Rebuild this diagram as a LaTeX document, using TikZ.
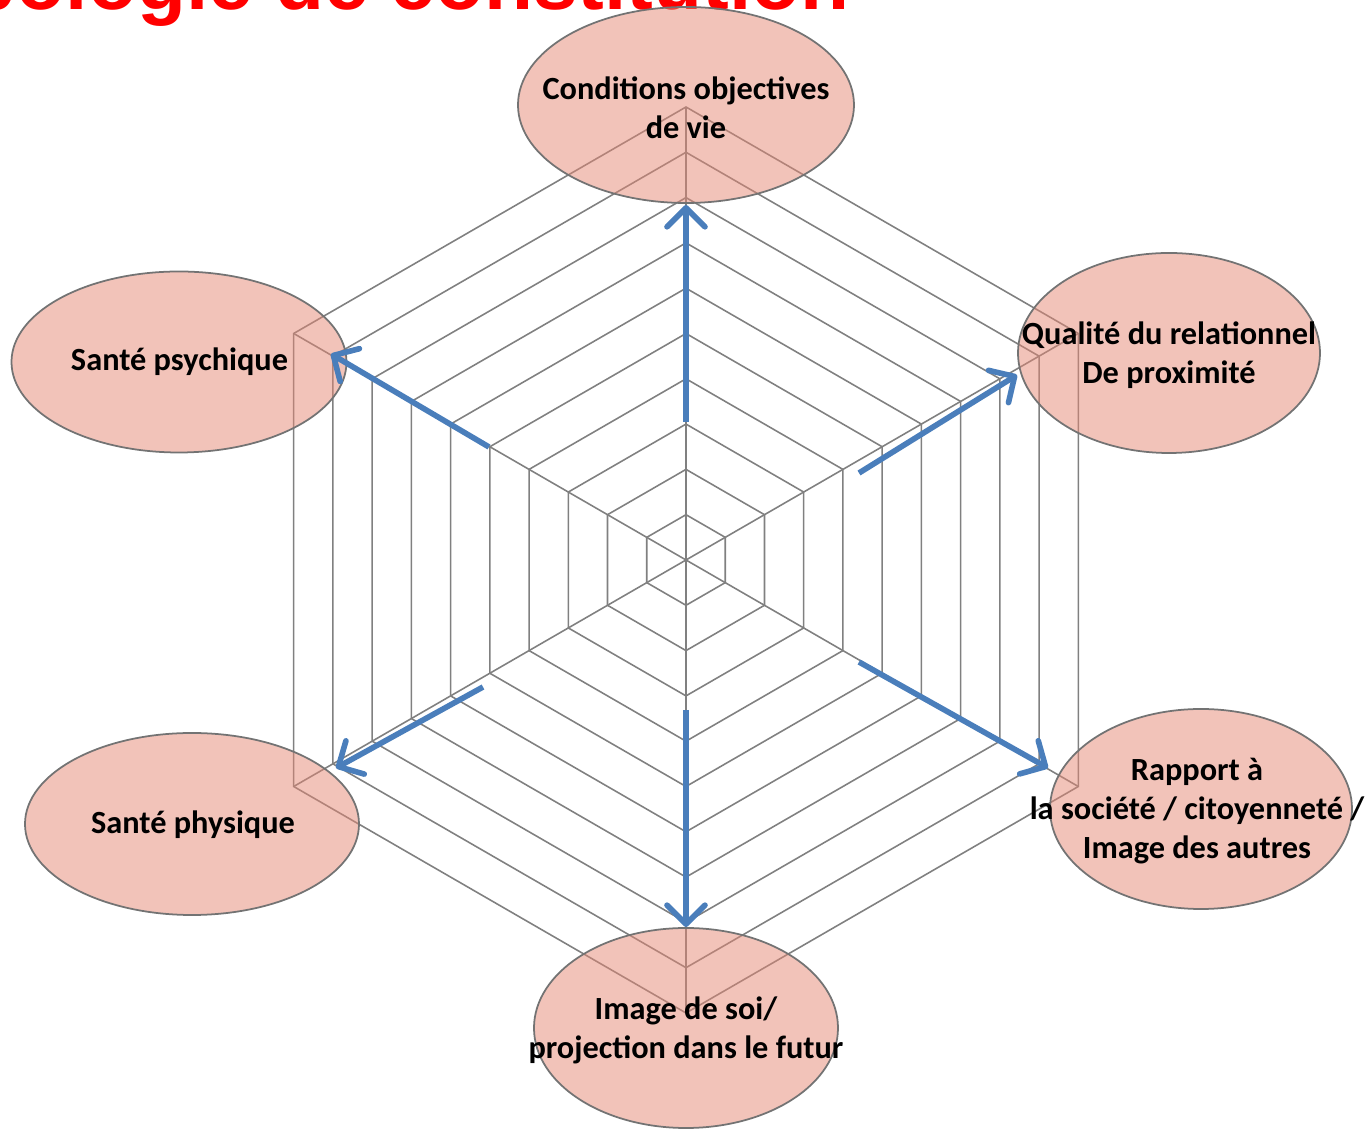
\documentclass[tikz,border=0pt]{standalone}
\usepackage{fontspec}
\setmainfont{Carlito}
\newfontfamily\titlefont{Liberation Sans}
\usetikzlibrary{arrows.meta,shapes.geometric}
\definecolor{webgray}{RGB}{128,128,128}
\definecolor{bubblefill}{RGB}{229,135,115}
\definecolor{axisblue}{RGB}{74,126,187}

\begin{document}
\begin{tikzpicture}[
  web/.style={webgray, line width=0.45pt},
  bubble/.style={ellipse, draw=black!55, line width=0.5pt, fill=bubblefill, fill opacity=0.5, inner sep=0pt},
  lbl/.style={font=\bfseries\fontsize{9.2}{11.1}\selectfont, align=center, inner sep=0pt},
  axis/.style={axisblue, line width=1.6pt, -{Straight Barb[length=1.9mm,width=3.8mm,round]}}]
\useasboundingbox (-6.86,-5.69) rectangle (6.82,5.60);
% title, cut by the top edge
\node[anchor=base east, inner sep=0pt, text=red, font=\titlefont\bfseries\fontsize{22.8}{27}\selectfont] (title) at (1.64,5.50) {Typologie de constitution};
% spider web
\coordinate (o) at (0,0);
\foreach \k [evaluate=\k as \r using 0.453*\k] in {1,...,10}
  \draw[web] (90:\r) -- (30:\r) -- (-30:\r) -- (-90:\r) -- (-150:\r) -- (150:\r) -- cycle;
\foreach \a in {90,30,-30,-90,-150,150} \draw[web] (o) -- (\a:4.53);
% the six dimensions
\node[bubble, minimum width=3.36cm, minimum height=1.96cm] (cond) at (0,4.55) {};
\node[bubble, minimum width=3.02cm, minimum height=2.00cm] (qual) at (4.83,2.07) {};
\node[bubble, minimum width=3.02cm, minimum height=2.00cm] (rapp) at (5.15,-2.49) {};
\node[bubble, minimum width=3.04cm, minimum height=2.00cm] (imag) at (0,-4.68) {};
\node[bubble, minimum width=3.34cm, minimum height=1.82cm] (phys) at (-4.94,-2.64) {};
\node[bubble, minimum width=3.35cm, minimum height=1.81cm] (psy) at (-5.07,1.98) {};
% arrows
\coordinate (cond-a) at (0,1.38);      \coordinate (cond-b) at (0,3.55);
\coordinate (qual-a) at (1.73,0.87);   \coordinate (qual-b) at (3.31,1.85);
\coordinate (rapp-a) at (1.73,-1.02);  \coordinate (rapp-b) at (3.62,-2.08);
\coordinate (imag-a) at (0,-1.50);     \coordinate (imag-b) at (0,-3.67);
\coordinate (phys-a) at (-2.03,-1.27); \coordinate (phys-b) at (-3.50,-2.08);
\coordinate (psy-a) at (-1.97,1.13);   \coordinate (psy-b) at (-3.55,2.06);
\foreach \n in {cond,qual,rapp,imag,phys,psy} \draw[axis] (\n-a) -- (\n-b);
% labels
\node[lbl] (cond-t) at (0,4.525) {Conditions objectives\\de vie};
\node[lbl] (qual-t) at (4.83,2.05) {Qualité du relationnel\\De proximité};
\node[lbl] (rapp-t) at (5.11,-2.51) {Rapport à\\la société / citoyenneté /\\Image des autres};
\node[lbl] (imag-t) at (0,-4.70) {Image de soi/\\projection dans le futur};
\node[lbl] (phys-t) at (-4.93,-2.65) {Santé physique};
\node[lbl] (psy-t) at (-5.065,1.98) {Santé psychique};
\end{tikzpicture}
\end{document}
